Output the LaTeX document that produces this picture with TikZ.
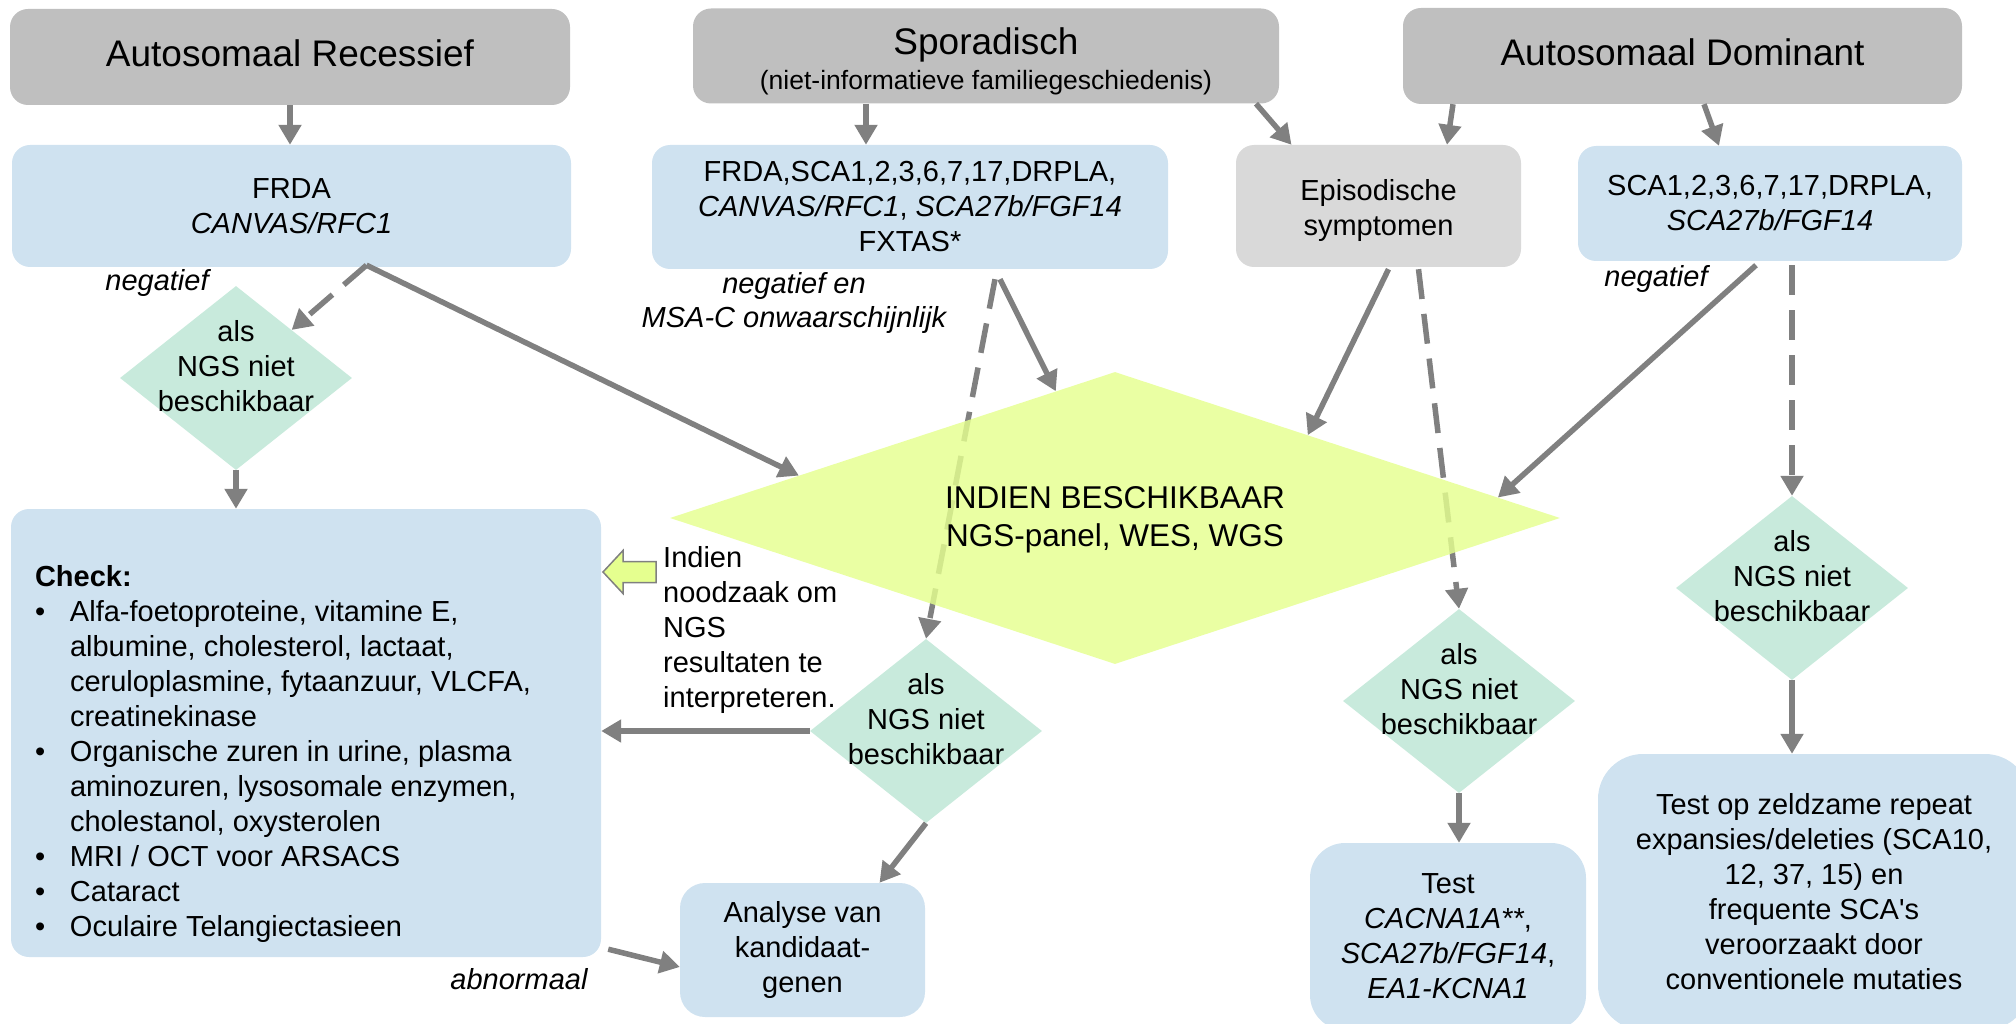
\documentclass[tikz,border=0pt]{standalone}
\usepackage{fontspec}
\setmainfont{Liberation Sans}
\usetikzlibrary{shapes.geometric,arrows.meta,calc,backgrounds}
\definecolor{titlegray}{RGB}{191,191,191}
\definecolor{boxblue}{RGB}{207,226,240}
\definecolor{epigray}{RGB}{217,217,217}
\definecolor{dgreen}{RGB}{200,234,220}
\definecolor{ngsyellow}{RGB}{229,255,143}
\definecolor{arrowgray}{RGB}{128,128,128}
\newcommand{\fsz}[2]{\fontsize{#1}{#2}\selectfont}
\newcommand{\dmtext}[2][0pt]{\makebox[0pt]{\raisebox{#1}[0pt][0pt]{\begin{tabular}{@{}c@{}}#2\end{tabular}}}}
\begin{document}
\begin{tikzpicture}[x=1pt,y=-1pt,
  titlebox/.style={fill=titlegray, rounded corners=18pt, align=center, font=\fsz{37}{44}, inner sep=0pt},
  bluebox/.style={fill=boxblue, rounded corners=18pt, align=center, font=\fsz{29}{35}, inner sep=0pt},
  decbox/.style={diamond, fill=dgreen, minimum width=232pt, minimum height=184pt, inner sep=0pt, font=\fsz{29}{35}},
  bigdec/.style={diamond, fill=ngsyellow, fill opacity=0.82, text opacity=1, minimum width=890pt, minimum height=292pt, inner sep=0pt, font=\fsz{31.5}{38}},
  lbl/.style={font=\fsz{29}{34}\itshape, inner sep=0pt, align=center},
  arr/.style={draw=arrowgray, line width=5.5pt, -{Triangle[length=20pt,width=22pt]}},
  dasharr/.style={arr, dash pattern=on 30pt off 15pt}
]
\useasboundingbox (0,0) rectangle (2016,1024);
\clip (0,0) rectangle (2016,1024);

% top row
\node[titlebox, minimum width=560pt, minimum height=96pt, text depth=8pt] (ar) at (290,57) {Autosomaal Recessief};
\node[titlebox, minimum width=586pt, minimum height=95pt, font=\fsz{37}{35}] (spor) at (986,56) {\rule{0pt}{37pt}Sporadisch\\{\fsz{26.5}{30}(niet-informatieve familiegeschiedenis)}};
\node[titlebox, minimum width=559pt, minimum height=96pt, text depth=8pt] (ad) at (1682.5,56) {Autosomaal Dominant};

% second row
\node[bluebox, minimum width=559pt, minimum height=122pt] (frda) at (291.5,206) {FRDA\\\textit{CANVAS/RFC1}};
\node[bluebox, minimum width=516pt, minimum height=124pt] (panel) at (910,207) {FRDA,SCA1,2,3,6,7,17,DRPLA,\\\textit{CANVAS/RFC1}, \textit{SCA27b/FGF14}\\FXTAS*};
\node[bluebox, fill=epigray, minimum width=285pt, minimum height=122pt] (episod) at (1378.5,206) {\rule{0pt}{30pt}Episodische\\symptomen};
\node[bluebox, minimum width=384pt, minimum height=115pt] (sca) at (1770,203.5) {SCA1,2,3,6,7,17,DRPLA,\\\textit{SCA27b/FGF14}};

% labels
\node[lbl] (neg1) at (157,283) {negatief};
\node[lbl] (neg2) at (794,303) {negatief en\\MSA-C onwaarschijnlijk};
\node[lbl] (neg3) at (1656,279) {negatief};
\node[lbl] (abn) at (519,979) {abnormaal};

% decision diamonds
\node[decbox] (l1) at (236,378) {\dmtext[2pt]{als\\NGS niet\\beschikbaar}};
\node[decbox] (m) at (926,731) {\dmtext[2pt]{als\\NGS niet\\beschikbaar}};
\node[decbox] (r1) at (1459,701) {\dmtext[2pt]{als\\NGS niet\\beschikbaar}};
\node[decbox] (r2) at (1792,588) {\dmtext[2pt]{als\\NGS niet\\beschikbaar}};

% big diamond
\node[bigdec] (big) at (1115,518) {\dmtext[-8pt]{INDIEN BESCHIKBAAR\\NGS-panel, WES, WGS}};

% check box
\node[bluebox, minimum width=590pt, minimum height=448pt] (check) at (306,733) {\makebox[0pt]{\raisebox{-27pt}[0pt][0pt]{\parbox{542pt}{\raggedright
\textbf{Check:}\\
\makebox[35pt][l]{\textbullet}Alfa-foetoproteine, vitamine E,\\
\hspace*{35pt}albumine, cholesterol, lactaat,\\
\hspace*{35pt}ceruloplasmine, fytaanzuur, VLCFA,\\
\hspace*{35pt}creatinekinase\\
\makebox[35pt][l]{\textbullet}Organische zuren in urine, plasma\\
\hspace*{35pt}aminozuren, lysosomale enzymen,\\
\hspace*{35pt}cholestanol, oxysterolen\\
\makebox[35pt][l]{\textbullet}MRI / OCT voor ARSACS\\
\makebox[35pt][l]{\textbullet}Cataract\\
\makebox[35pt][l]{\textbullet}Oculaire Telangiectasieen}}}};

% hollow arrow and its text
\draw[fill=ngsyellow, draw=arrowgray, line width=1.5pt] (603,572) -- (623,550.5) -- (623,561.5) -- (656,561.5) -- (656,582.5) -- (623,582.5) -- (623,593.5) -- cycle;
\node[font=\fsz{29}{35}, align=left, anchor=west, inner sep=0pt] (indien) at (663,630) {Indien\\noodzaak om\\NGS\\resultaten te\\interpreteren.};

% bottom boxes
\node[bluebox, rounded corners=25pt, minimum width=245pt, minimum height=134pt] (analyse) at (802.5,950) {Analyse van\\kandidaat-\\genen};
\node[bluebox, rounded corners=35pt, minimum width=276pt, minimum height=187pt] (test) at (1448,936.5) {Test\\\textit{CACNA1A**},\\\textit{SCA27b/FGF14},\\\textit{EA1-KCNA1}};
\node[bluebox, rounded corners=45pt, minimum width=432pt, minimum height=276pt] (test2) at (1814,892) {Test op zeldzame repeat\\expansies/deleties (SCA10,\\12, 37, 15) en\\frequente SCA\textquotesingle s\\veroorzaakt door\\conventionele mutaties};

% dashed connectors passing under the big diamond
\begin{pgfonlayer}{background}
\draw[dasharr] ($(panel.south)+(85,10)$) -- (m.north);
\draw[dasharr] ($(episod.south)+(40,2)$) -- (r1.north);
\end{pgfonlayer}

% connectors
\draw[arr] (ar.south) -- (ar.south |- frda.north);
\draw[arr] ($(spor.south)+(-120,0)$) -- ($(panel.north)+(-44,0)$);
\draw[arr] ($(spor.south)+(270,0)$) -- ($(episod.north)+(-87,0)$);
\draw[arr] ($(ad.south)+(-229.5,0)$) -- ($(episod.north)+(68.5,0)$);
\draw[arr] ($(ad.south)+(21.5,0)$) -- ($(sca.north)+(-51,0)$);

\draw[dasharr] ($(frda.south)+(75,-2)$) -- (l1);
\draw[arr] ($(frda.south)+(75,-2)$) -- ($(big.west)!0.29!(big.north)$);
\draw[arr] ($(panel.south)+(90,10)$) -- ($(big.west)!0.867!(big.north)$);
\draw[arr] ($(episod.south)+(10,2)$) -- ($(big.north)!0.433!(big.east)$);
\draw[arr] ($(sca.south)+(-14,4)$) -- ($(big.north)!0.86!(big.east)$);
\draw[dasharr] ($(sca.south)+(22,4)$) -- (r2.north);

\draw[arr] (l1.south) -- (l1.south |- check.north);
\draw[arr] (m.west) -- (m.west -| check.east);
\draw[arr] (m.south) -- ($(analyse.north)+(77,0)$);
\draw[arr] ($(check.south east)+(7,-8)$) -- ($(analyse.west)+(0,17)$);
\draw[arr] (r1.south) -- (r1.south |- test.north);
\draw[arr] (r2.south) -- (r2.south |- test2.north);
\end{tikzpicture}
\end{document}
